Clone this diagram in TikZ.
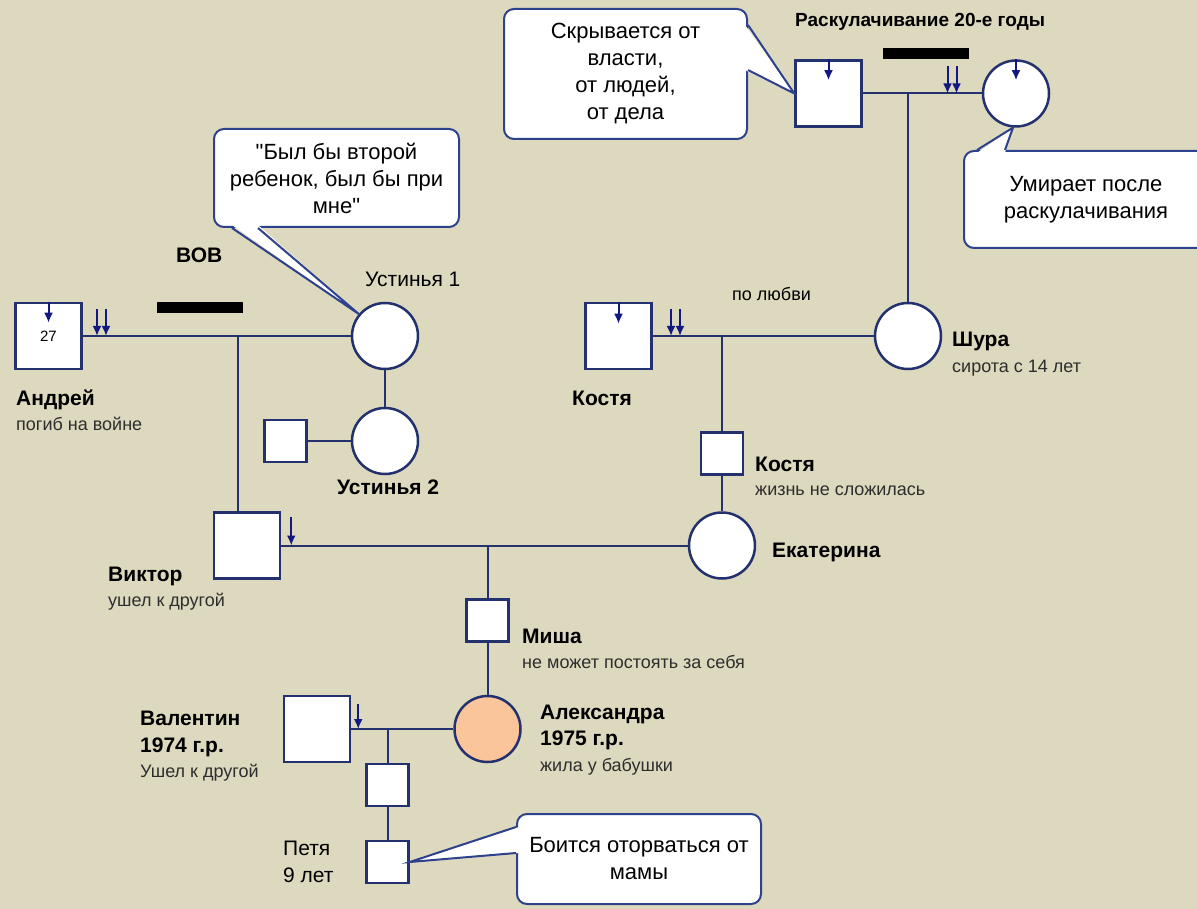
\documentclass[tikz,border=0pt]{standalone}
\usepackage{fontspec}
\setmainfont{Liberation Sans}
\newfontfamily\quotefam{Liberation Sans}
\usetikzlibrary{arrows.meta,positioning}

\definecolor{paper}{RGB}{221,217,190}
\definecolor{kin}{RGB}{35,50,110}
\definecolor{tipcol}{RGB}{20,25,130}
\definecolor{bubcol}{RGB}{45,65,140}
\definecolor{peach}{RGB}{250,197,155}
\definecolor{subcol}{RGB}{45,45,45}

\tikzset{
  male/.style={draw=kin, fill=white, line width=2.5pt, minimum size=66pt, inner sep=0pt},
  female/.style={male, circle},
  kid/.style={minimum size=42pt},
  link/.style={draw=kin, line width=2pt},
  downarr/.style={draw=tipcol, line width=2pt, -{Latex[length=10pt,width=9pt]}},
  bar/.style={fill=black, minimum width=86pt, minimum height=11pt, inner sep=0pt},
  who/.style={font=\fontsize{21}{25}\selectfont\bfseries, anchor=base west, inner sep=0pt},
  about/.style={font=\fontsize{18}{22}\selectfont, text=subcol, anchor=base west, inner sep=0pt},
  bubble/.style={draw=bubcol, fill=white, line width=2pt, rounded corners=10pt, align=center,
    font=\fontsize{22}{27}\selectfont, inner sep=0pt},
  beak/.style={draw=bubcol, line width=2pt, line join=miter},
}

\begin{document}
\begin{tikzpicture}[x=1pt,y=-1pt]

  \useasboundingbox (0,0) rectangle (1197,909);
  \clip (0,0) rectangle (1197,909);
  \fill[paper] (0,0) rectangle (1197,909);

  % persons
  \node[male]   (dedR)    at (828.5,93.5) {};
  \node[female] (babR)    at (1016,93.5)  {};
  \node[female] (shura)   at (908,336)    {};
  \node[male]   (kostya)  at (618.5,336)  {};
  \node[male,kid] (kostya2) at (722,453.5) {};
  \node[female] (katya)   at (722,545.5)  {};
  \node[male]   (andrey)  at (48.5,336)   {\fontsize{15}{15}\selectfont 27};
  \node[female] (ust1)    at (385,336)    {};
  \node[female] (ust2)    at (385,441)    {};
  \node[male,kid] (ustM)  at (285.5,441)  {};
  \node[male]   (viktor)  at (247,545.5)  {};
  \node[male,kid] (misha) at (487.5,620.5) {};
  \node[female, fill=peach] (sasha) at (487.5,729) {};
  \node[male]   (valya)   at (317,729)    {};
  \node[male,kid] (kid1)  at (387.5,785)  {};
  \node[male,kid] (petya) at (387.5,862)  {};

  % lines
  \coordinate (mR) at (908,93.5);
  \coordinate (mK) at (722,336);
  \coordinate (mA) at (238,336);
  \coordinate (mV) at (487.5,545.5);
  \coordinate (mS) at (387.5,729);

  \draw[link] (dedR.east) -- (babR.west);
  \draw[link] (mR) -- (shura.north);
  \draw[link] (kostya.east) -- (shura.west);
  \draw[link] (mK) -- (kostya2.north);
  \draw[link] (kostya2.south) -- (katya.north);
  \draw[link] (andrey.east) -- (ust1.west);
  \draw[link] (mA) -- (mA |- viktor.north);
  \draw[link] (ust1.south) -- (ust2.north);
  \draw[link] (ustM.east) -- (ust2.west);
  \draw[link] (viktor.east) -- (katya.west);
  \draw[link] (mV) -- (misha.north);
  \draw[link] (misha.south) -- (sasha.north);
  \draw[link] (valya.east) -- (sasha.west);
  \draw[link] (mS) -- (kid1.north);
  \draw[link] (kid1.south) -- (petya.north);

  % arrows
  \draw[downarr] (dedR.north) -- ([yshift=-21pt]dedR.north);
  \draw[downarr] (babR.north) -- ([yshift=-21pt]babR.north);
  \draw[downarr] (kostya.north) -- ([yshift=-22pt]kostya.north);
  \draw[downarr] (andrey.north) -- ([yshift=-21pt]andrey.north);
  \draw[downarr] ([xshift=10pt,yshift=-6pt]viktor.north east) -- ([xshift=10pt]viktor.east);
  \draw[downarr] ([xshift=7pt,yshift=-9pt]valya.north east) -- ([xshift=7pt]valya.east);

  \coordinate (wR) at (952,93.5);
  \coordinate (wK) at (675.5,336);
  \coordinate (wA) at (101.5,336);
  \foreach \w in {wR,wK,wA}
    \foreach \s in {-4.5,4.5}
      \draw[downarr] ([xshift=\s pt,yshift=27pt]\w) -- ([xshift=\s pt]\w);

  \node[bar] (bar1) at (200,308)   {};
  \node[bar] (bar2) at (926,53.5)  {};

  % labels
  \node[who, font=\fontsize{19}{23}\selectfont\bfseries] (nRask) at (795,27) {Раскулачивание 20-е годы};
  \node[about, text=black] (nLove) at (732,301) {по любви};
  \node[who] (nShura) at (952,347) {Шура};
  \node[about] at ([yshift=-26pt]nShura.base west) {сирота с 14 лет};
  \node[who] (nKostya) at (572,405) {Костя};
  \node[who] (nKostya2) at (755,471) {Костя};
  \node[about] at ([yshift=-24pt]nKostya2.base west) {жизнь не сложилась};
  \node[who] (nKatya) at (772,557) {Екатерина};
  \node[who] (nVov) at (176,263) {ВОВ};
  \node[who, font=\fontsize{21}{25}\selectfont] (nUst1) at (365,287) {Устинья 1};
  \node[who] (nUst2) at (337,494) {Устинья 2};
  \node[who] (nAndrey) at (16,405) {Андрей};
  \node[about] at ([yshift=-25pt]nAndrey.base west) {погиб на войне};
  \node[who] (nViktor) at (108,581) {Виктор};
  \node[about] at ([yshift=-25pt]nViktor.base west) {ушел к другой};
  \node[who] (nMisha) at (522,643) {Миша};
  \node[about] at ([yshift=-25pt]nMisha.base west) {не может постоять за себя};
  \node[who] (nValya) at (140,725) {Валентин};
  \node[who] (nValyaY) at ([yshift=-27pt]nValya.base west) {1974 г.р.};
  \node[about] at ([yshift=-25pt]nValyaY.base west) {Ушел к другой};
  \node[who] (nSasha) at (540,719) {Александра};
  \node[who] (nSashaY) at ([yshift=-26pt]nSasha.base west) {1975 г.р.};
  \node[about] at ([yshift=-26pt]nSashaY.base west) {жила у бабушки};
  \node[who, font=\fontsize{21}{25}\selectfont] (nPetya) at (283,855) {Петя};
  \node[who, font=\fontsize{21}{25}\selectfont] at ([yshift=-27pt]nPetya.base west) {9 лет};

  % callouts
  \node[bubble, minimum width=245pt, minimum height=98pt] (bByl) at (336.5,178)
    {{\quotefam"}Был бы второй\\ребенок, был бы при\\мне{\quotefam"}};
  \node[bubble, minimum width=243pt, minimum height=130pt] (bSkr) at (625.5,74)
    {Скрывается от\\власти,\\от людей,\\от дела};
  \node[bubble, minimum width=244pt, minimum height=97pt] (bUmir) at (1086,199.5)
    {Умирает после\\раскулачивания};
  \node[bubble, minimum width=244pt, minimum height=90pt] (bBoi) at (639,859)
    {Боится оторваться от\\мамы};

  \fill[white] ([xshift=19pt,yshift=3pt]bByl.south west) -- (ust1.140) -- ([xshift=45pt,yshift=3pt]bByl.south west) -- cycle;
  \draw[beak] ([xshift=19pt]bByl.south west) -- (ust1.140) -- ([xshift=45pt]bByl.south west);

  \fill[white] ([xshift=-3pt,yshift=-17pt]bSkr.north east) -- (dedR.west) -- ([xshift=-3pt,yshift=-62pt]bSkr.north east) -- cycle;
  \draw[beak] ([yshift=-17pt]bSkr.north east) -- (dedR.west) -- ([yshift=-62pt]bSkr.north east);

  \fill[white] ([xshift=14pt,yshift=-3pt]bUmir.north west) -- (babR.265) -- ([xshift=42pt,yshift=-3pt]bUmir.north west) -- cycle;
  \draw[beak] ([xshift=14pt]bUmir.north west) -- (babR.265) -- ([xshift=42pt]bUmir.north west);

  \fill[white] ([xshift=3pt,yshift=-14pt]bBoi.north west) -- (petya.east) -- ([xshift=3pt,yshift=-40pt]bBoi.north west) -- cycle;
  \draw[beak] ([yshift=-14pt]bBoi.north west) -- (petya.east) -- ([yshift=-40pt]bBoi.north west);

\end{tikzpicture}
\end{document}
